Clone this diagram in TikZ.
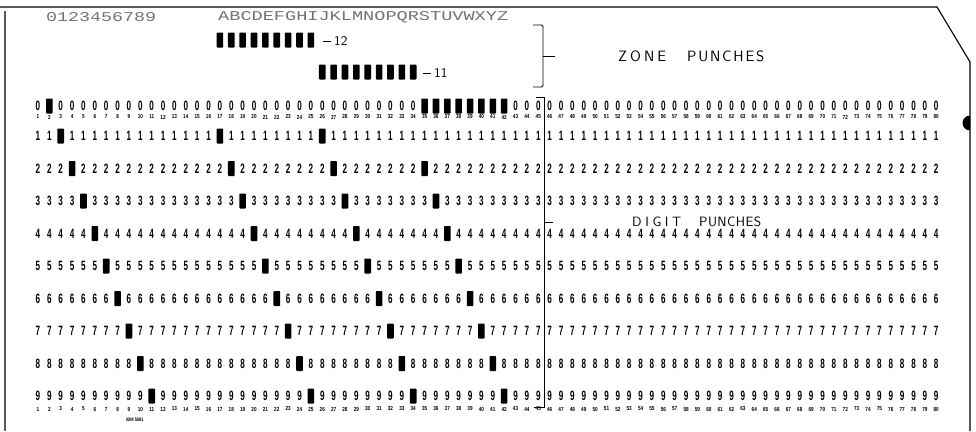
\documentclass[tikz,border=0pt]{standalone}
\usepackage{fontspec}
\usepackage{graphicx}
\setmainfont{Liberation Sans}
\setmonofont{Liberation Mono}
\newfontfamily\cardfont[FakeStretch=0.6]{Liberation Sans}
\newfontfamily\numfont[FakeStretch=0.8]{Liberation Sans}
\begin{document}
\begin{tikzpicture}[x=1pt,y=-1pt,
  dig/.style={inner sep=0pt, font=\cardfont\bfseries\fontsize{13.5}{13.5}\selectfont},
  colnum/.style={inner sep=0pt, font=\numfont\bfseries\fontsize{5.8}{5.8}\selectfont},
  punchbox/.style={fill=black, inner sep=0pt, minimum width=6.6pt, minimum height=15pt, rounded corners=0.8pt},
  cardedge/.style={line width=1.1pt},
  brk/.style={line width=0.9pt, rounded corners=1.5pt},
  hdr/.style={inner sep=0pt, anchor=west, text=black!55, font=\ttfamily},
  zonelbl/.style={inner sep=0pt, anchor=west, font=\sffamily\fontsize{15}{15}\selectfont},
  digitlbl/.style={inner sep=0pt, anchor=west, font=\sffamily\fontsize{13.5}{13.5}\selectfont},
  zlab/.style={inner sep=0pt, font=\sffamily}]
\useasboundingbox (0,0) rectangle (976,431);
\fill[white] (0,0) rectangle (976,431);

% card outline
\draw[cardedge] (0,7) -- (937,7) -- (970,62) -- (970,431);
\draw[line width=1.2pt, black!65] (5,11) -- (5,431);
\begin{scope}
  \clip (0,0) rectangle (970,431);
  \fill (970,123) circle (7.5);
\end{scope}

% header print
\node[hdr] (hdrdig) at (46,17) {\resizebox{110pt}{9pt}{0123456789}};
\node[hdr] (hdralpha) at (218,17) {\resizebox{290pt}{9pt}{ABCDEFGHIJKLMNOPQRSTUVWXYZ}};

% zone punches 12 and 11
\foreach \c in {17,...,25} {
  \pgfmathsetmacro\xc{38+(\c-1)*11.37}
  \node[punchbox] (z12-\c) at (\xc,40) {};
}
\foreach \c in {26,...,34} {
  \pgfmathsetmacro\xc{38+(\c-1)*11.37}
  \node[punchbox] (z11-\c) at (\xc,72) {};
}
\node[inner sep=0pt] (dash12) at (327,41) {\rule{7.5pt}{1pt}};
\node[zlab, anchor=west] (lab12) at (334,41) {\resizebox{!}{9pt}{12}};
\node[inner sep=0pt] (dash11) at (427,73) {\rule{7.5pt}{1pt}};
\node[zlab, anchor=west] (lab11) at (434,73) {\resizebox{!}{9pt}{11}};

% zone bracket
\draw[brk] (533,25) -- (543,25) -- (543,87) -- (533,87);
\draw[line width=0.9pt] (543,56) -- (555,56);
\node[zonelbl] (zone) at (618,56) {\makebox[48pt][s]{Z\hfill O\hfill N\hfill E}};
\node[zonelbl] (zpunch) at (687,56) {\makebox[77pt][s]{P\hfill U\hfill N\hfill C\hfill H\hfill E\hfill S}};

% digit bracket
\draw[line width=0.8pt] (536,97) -- (544,97) -- (544,407) -- (534,407);
\draw[line width=0.9pt] (544,222) -- (553,222);
\node[digitlbl] (digit) at (632,222) {\makebox[49pt][s]{D\hfill I\hfill G\hfill I\hfill T}};
\node[digitlbl] (dpunch) at (699,222) {\makebox[62pt][s]{P\hfill U\hfill N\hfill C\hfill H\hfill E\hfill S}};

% column numbers
\foreach \c in {1,...,80} {
  \pgfmathsetmacro\xc{38+(\c-1)*11.37}
  \node[colnum] (ct\c) at (\xc,117) {\c};
  \node[colnum] (cb\c) at (\xc,409) {\c};
}

% digit rows with punches
\foreach \r in {0,...,9} {
  \pgfmathsetmacro\yr{\r==0 ? 106 : 136+(\r-1)*32.5}
  \foreach \c in {1,...,80} {
    \pgfmathsetmacro\xc{38+(\c-1)*11.37}
    \pgfmathtruncatemacro\p{\r==0 ? ((\c==2)||(\c>34 && \c<43)) : ((\c==\r+2)||(\c==16+\r)||(\c==25+\r)||(\r>1 && \c==33+\r))}
    \ifnum\p=1
      \node[punchbox] (p\r-\c) at (\xc,\yr) {};
    \else
      \node[dig] (d\r-\c) at (\xc,\yr) {\r};
    \fi
  }
}

\node[colnum, font=\numfont\bfseries\fontsize{5}{5}\selectfont] (ibm) at (135,420) {IBM 5081};
\end{tikzpicture}
\end{document}
